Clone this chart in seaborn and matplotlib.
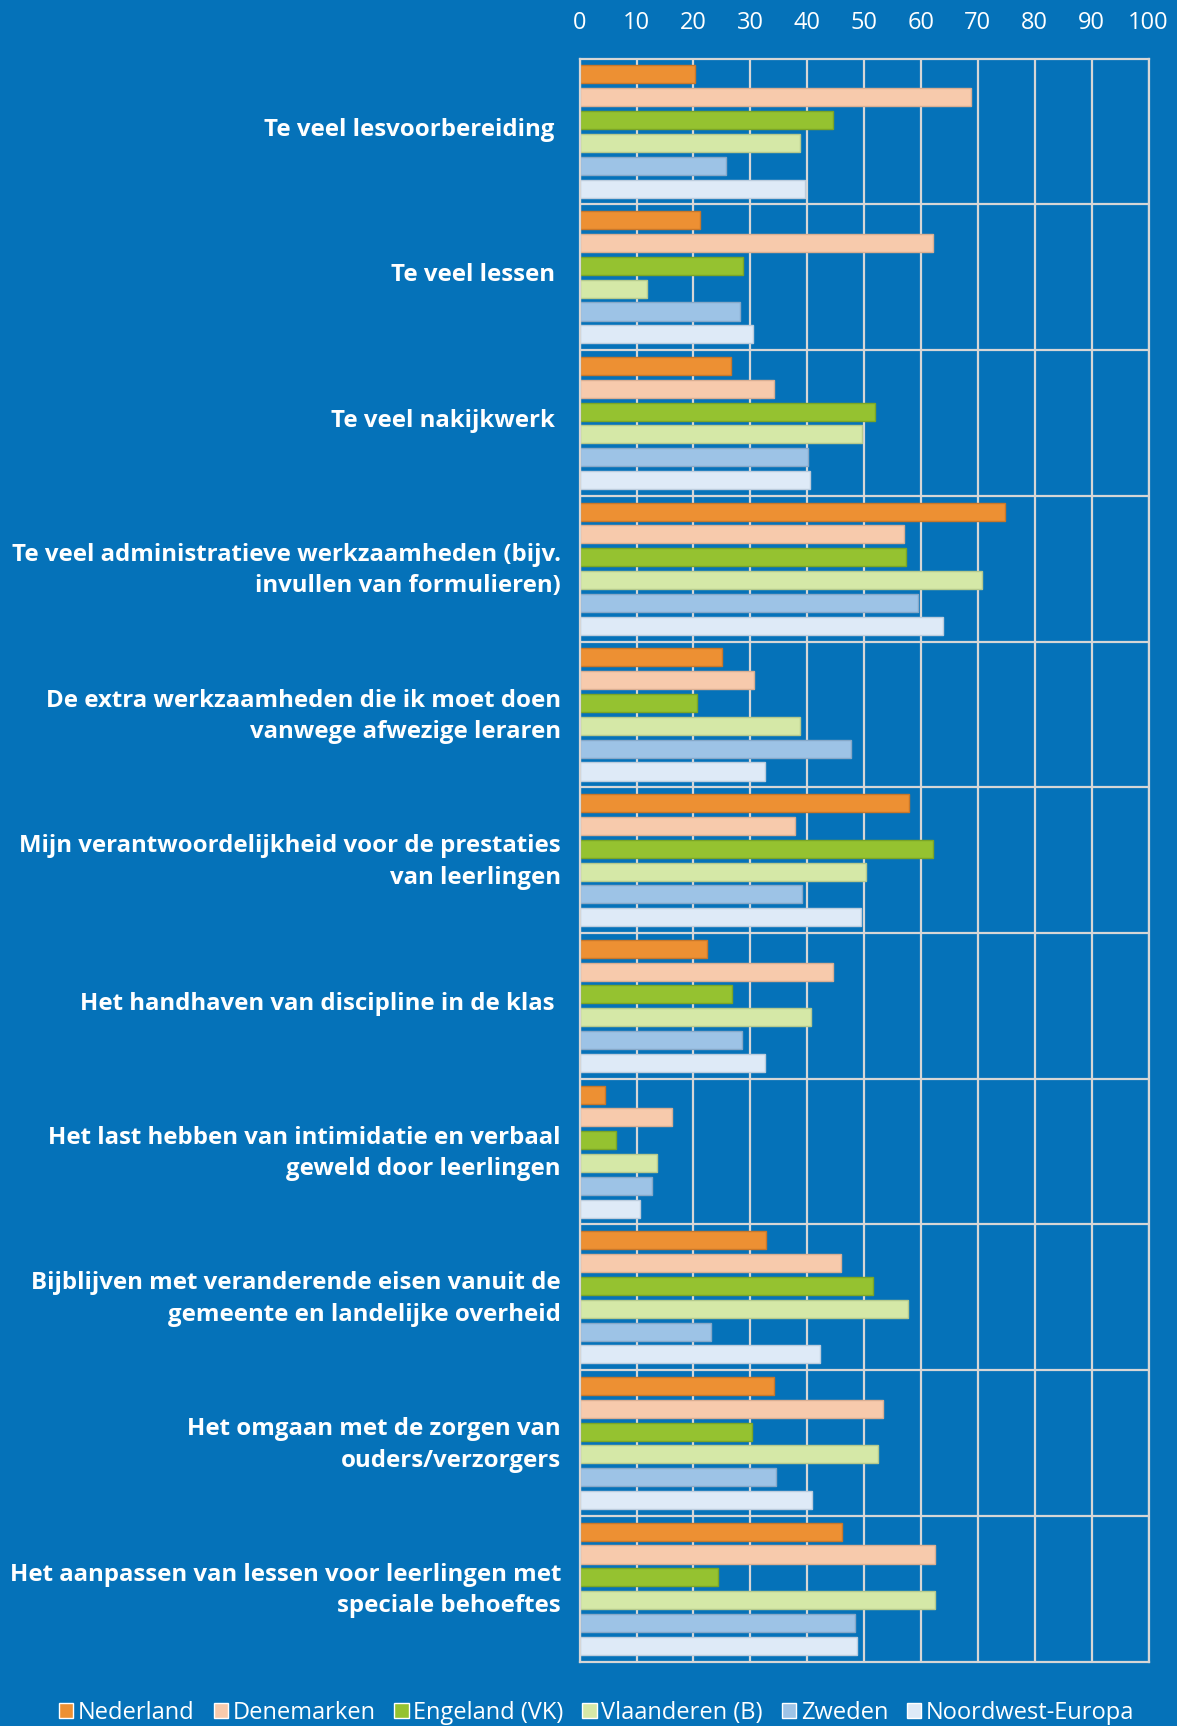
import matplotlib
matplotlib.use("Agg")
import matplotlib.pyplot as plt
import matplotlib.transforms as mtransforms
import seaborn as sns
import pandas as pd
import numpy as np

categories = [
    "Te veel lesvoorbereiding ",
    "Te veel lessen ",
    "Te veel nakijkwerk ",
    "Te veel administratieve werkzaamheden (bijv.\ninvullen van formulieren)",
    "De extra werkzaamheden die ik moet doen\nvanwege afwezige leraren",
    "Mijn verantwoordelijkheid voor de prestaties\nvan leerlingen",
    "Het handhaven van discipline in de klas ",
    "Het last hebben van intimidatie en verbaal\ngeweld door leerlingen",
    "Bijblijven met veranderende eisen vanuit de\ngemeente en landelijke overheid",
    "Het omgaan met de zorgen van\nouders/verzorgers",
    "Het aanpassen van lessen voor leerlingen met\nspeciale behoeftes",
]
series = ["Nederland", "Denemarken", "Engeland (VK)", "Vlaanderen (B)", "Zweden", "Noordwest-Europa"]

nederland   = [20.2, 21.2, 26.6, 74.8, 25.1, 57.9, 22.4, 4.4, 32.8, 34.2, 46.2]
denemarken  = [68.8, 62.2, 34.2, 57.1, 30.7, 37.8, 44.6, 16.2, 46.0, 53.3, 62.5]
engeland    = [44.5, 28.8, 52.0, 57.4, 20.7, 62.2, 26.8, 6.3, 51.5, 30.3, 24.3]
vlaanderen  = [38.7, 11.9, 49.6, 70.7, 38.8, 50.3, 40.7, 13.6, 57.8, 52.4, 62.4]
zweden      = [25.8, 28.1, 40.1, 59.5, 47.7, 39.1, 28.5, 12.7, 23.1, 34.6, 48.4]
noordwest   = [39.6, 30.4, 40.5, 63.8, 32.6, 49.4, 32.6, 10.6, 42.3, 40.9, 48.8]

x_ticks = [0, 10, 20, 30, 40, 50, 60, 70, 80, 90, 100]

colors = ["#ED9033", "#F7CAAC", "#95C230", "#D5E8A7", "#9DC3E6", "#DEEAF7"]
edges = ["#C9772A", "#D9AE92", "#7BA526", "#B5C98D", "#86A8C8", "#BCCCDD"]
bg = "#0572B9"
grid_c = "#D6D6D6"

values = [nederland, denemarken, engeland, vlaanderen, zweden, noordwest]
rows = []
for s, vals in zip(series, values):
    for c, v in zip(categories, vals):
        rows.append({"categorie": c, "land": s, "waarde": v})
df = pd.DataFrame(rows)

sns.set_theme(style="white")
plt.rcParams["font.family"] = ["Open Sans", "DejaVu Sans"]

fig = plt.figure(figsize=(11.77, 17.26), dpi=100, facecolor=bg)
ax = fig.add_axes([0.4925, 0.0373, 0.4833, 0.9287])
ax.set_facecolor(bg)

sns.barplot(data=df, y="categorie", x="waarde", hue="land", order=categories,
            hue_order=series, palette=colors, orient="h", width=0.94, gap=0.21,
            ax=ax, legend=True, saturation=1)

# subtle outlines on bars
for cont, ec in zip(ax.containers, edges):
    for p in cont.patches:
        p.set_edgecolor(ec)
        p.set_linewidth(1.0)

ax.set_xlim(0, 100)
ax.set_ylim(len(categories) - 0.5, -0.5)
ax.set_xticks(x_ticks)
ax.set_xticklabels([str(t) for t in x_ticks])
ax.xaxis.tick_top()
ax.tick_params(axis="x", length=0, pad=17, labelsize=17, colors="white")
ax.tick_params(axis="y", length=0, pad=13.5, colors="white")
ax.set_xlabel("")
ax.set_ylabel("")

offset = mtransforms.ScaledTranslation(0, 3.5 / 72, fig.dpi_scale_trans)
for lab in ax.get_yticklabels():
    lab.set_fontsize(17.3)
    lab.set_fontweight("bold")
    lab.set_color("white")
    lab.set_horizontalalignment("right")
    lab.set_multialignment("right")
    lab.set_linespacing(1.42)
    lab.set_transform(lab.get_transform() + offset)

ax.set_axisbelow(True)
ax.grid(axis="x", color=grid_c, linewidth=1.6)
for i in range(len(categories) - 1):
    ax.axhline(i + 0.5, color=grid_c, linewidth=1.6, zorder=0.5)
for sp in ax.spines.values():
    sp.set_visible(True)
    sp.set_color(grid_c)
    sp.set_linewidth(1.6)

handles, labels = ax.get_legend_handles_labels()
ax.get_legend().remove()
fig.legend(handles, labels, loc="center", bbox_to_anchor=(0.507, 0.0075), ncol=6,
           frameon=False, fontsize=17, labelcolor="white", handlelength=0.6,
           handleheight=0.6, handletextpad=0.2, columnspacing=0.8, borderaxespad=0)

fig.savefig("out.png", dpi=100, facecolor=bg)
